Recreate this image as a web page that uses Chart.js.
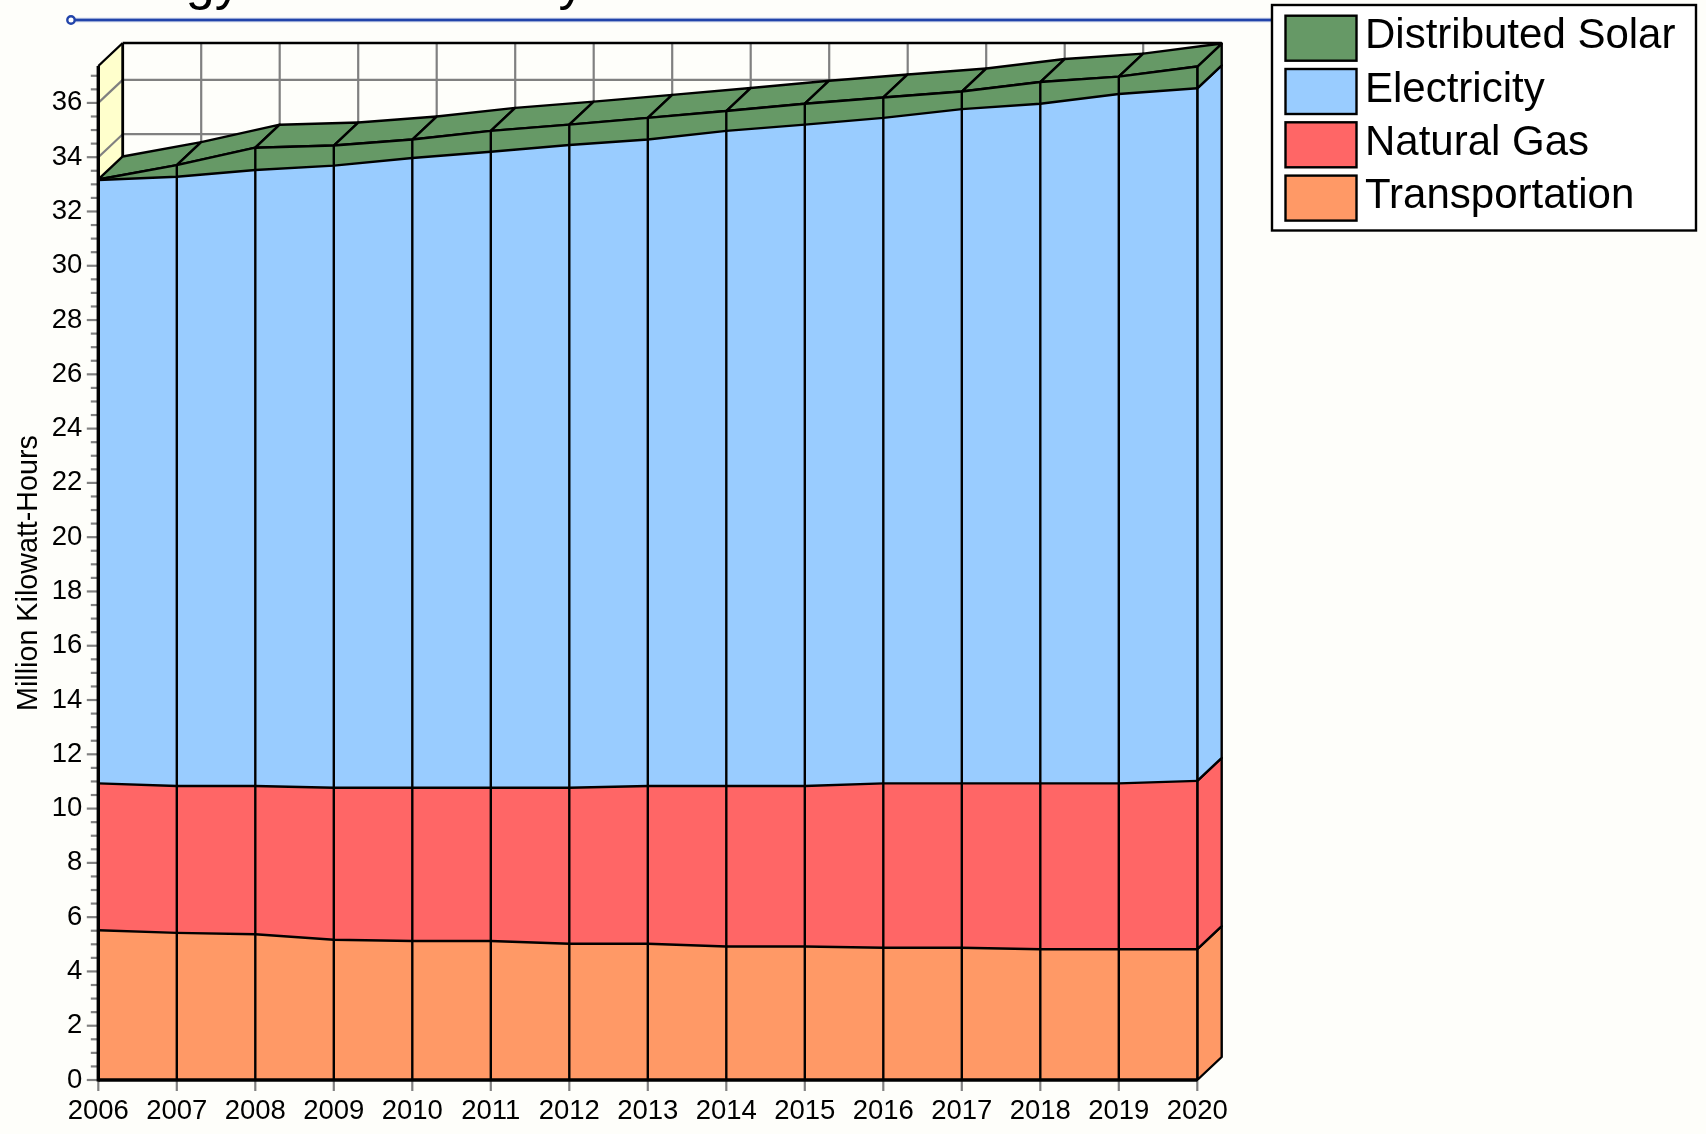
<!DOCTYPE html>
<html>
<head>
<meta charset="utf-8">
<title>Energy Use Summary</title>
<style>html,body{margin:0;padding:0;background:#FEFEFA;overflow:hidden}canvas{display:block}</style>
<script src="https://cdn.jsdelivr.net/npm/chart.js@4/dist/chart.umd.min.js"></script>
</head>
<body>
<canvas id="c" width="1706" height="1134"></canvas>
<script>
const years = ['2006','2007','2008','2009','2010','2011','2012','2013','2014','2015','2016','2017','2018','2019','2020'];
const transportation = [5.52,5.42,5.37,5.17,5.12,5.12,5.02,5.02,4.92,4.92,4.87,4.87,4.82,4.82,4.82];
const naturalGas = [5.41,5.41,5.46,5.6,5.65,5.65,5.75,5.81,5.91,5.91,6.06,6.06,6.11,6.11,6.2];
const electricity = [22.23,22.45,22.7,22.92,23.2,23.43,23.68,23.82,24.14,24.37,24.52,24.84,25.04,25.4,25.52];
const distributedSolar = [0.02,0.43,0.82,0.74,0.68,0.77,0.75,0.8,0.73,0.77,0.75,0.65,0.8,0.64,0.8];
const yTickValues = [];
for (let v = 0; v <= 37; v += 0.5) yTickValues.push(v);
const chartTitle = 'Energy Use Summary';
const yAxisTitle = 'Million Kilowatt-Hours';

const FONT = '"Liberation Sans", Arial, sans-serif';
const BG = '#FEFEFA', DEPTH_X = 24.4, DEPTH_Y = 23;
const COLORS = {t:'#FF9966', g:'#FF6666', e:'#99CCFF', s:'#669966'};

function seg(ctx, x1, y1, x2, y2, color, w) {
  ctx.strokeStyle = color; ctx.lineWidth = w;
  ctx.beginPath(); ctx.moveTo(x1, y1); ctx.lineTo(x2, y2); ctx.stroke();
}
function quad(ctx, pts, fill) {
  ctx.beginPath(); pts.forEach((p, i) => i ? ctx.lineTo(p[0], p[1]) : ctx.moveTo(p[0], p[1])); ctx.closePath();
  ctx.fillStyle = fill; ctx.fill();
  ctx.strokeStyle = '#000'; ctx.lineWidth = 2.4; ctx.lineJoin = 'round'; ctx.stroke();
}

const box3d = {
  id: 'box3d',
  beforeDraw(chart) {
    const ctx = chart.ctx;
    ctx.save();
    ctx.fillStyle = BG; ctx.fillRect(0, 0, chart.width, chart.height);
    ctx.fillStyle = '#000'; ctx.font = '52px ' + FONT; ctx.textBaseline = 'alphabetic'; ctx.textAlign = 'left';
    ctx.fillText(chartTitle, 76, -1);
    seg(ctx, 71, 20, 1272, 20, 'rgba(43,75,174,0.3)', 4.5);
    seg(ctx, 71, 20, 1272, 20, '#2244AA', 2.4);
    ctx.beginPath(); ctx.arc(71, 20, 3.7, 0, Math.PI * 2);
    ctx.fillStyle = '#FFFFFF'; ctx.fill(); ctx.strokeStyle = '#2244AA'; ctx.lineWidth = 2.4; ctx.stroke();
    ctx.restore();
  },
  beforeDatasetsDraw(chart) {
    const ctx = chart.ctx, xs = chart.scales.x, ys = chart.scales.y;
    const L = xs.left, R = xs.right, B = ys.bottom, T = ys.top;
    ctx.save();
    ctx.beginPath(); ctx.moveTo(L, B); ctx.lineTo(L, T); ctx.lineTo(L + DEPTH_X, T - DEPTH_Y); ctx.lineTo(L + DEPTH_X, B - DEPTH_Y); ctx.closePath();
    ctx.fillStyle = '#FFFFCC'; ctx.fill();
    years.forEach((y, i) => {
      const x = xs.getPixelForTick(i) + DEPTH_X;
      if (i > 0 && i < years.length - 1) seg(ctx, x, T - DEPTH_Y, x, B - DEPTH_Y, '#808080', 2.2);
    });
    yTickValues.filter(v => v % 2 === 0).forEach(v => {
      const y = ys.getPixelForValue(v);
      seg(ctx, L, y, L + DEPTH_X, y - DEPTH_Y, '#808080', 2.2);
      seg(ctx, L + DEPTH_X, y - DEPTH_Y, R + DEPTH_X, y - DEPTH_Y, '#808080', 2.2);
    });
    seg(ctx, L + DEPTH_X, T - DEPTH_Y, R + DEPTH_X, T - DEPTH_Y, '#000', 2.4);
    seg(ctx, L + DEPTH_X, T - DEPTH_Y, L + DEPTH_X, B - DEPTH_Y, '#000', 2.8);
    seg(ctx, L, T, L + DEPTH_X, T - DEPTH_Y, '#000', 2.4);
    const n = years.length - 1;
    let prevY = B;
    chart.data.datasets.forEach((ds, d) => {
      const pt = chart.getDatasetMeta(d).data[n];
      quad(ctx, [[pt.x, prevY], [pt.x, pt.y], [pt.x + DEPTH_X, pt.y - DEPTH_Y], [pt.x + DEPTH_X, prevY - DEPTH_Y]], ds.backgroundColor);
      prevY = pt.y;
    });
    const top = chart.getDatasetMeta(chart.data.datasets.length - 1).data;
    for (let i = 0; i < n; i++) {
      const a = top[i], b = top[i + 1];
      quad(ctx, [[a.x, a.y], [b.x, b.y], [b.x + DEPTH_X, b.y - DEPTH_Y], [a.x + DEPTH_X, a.y - DEPTH_Y]], COLORS.s);
    }
    ctx.restore();
  },
  afterDatasetsDraw(chart) {
    const ctx = chart.ctx, xs = chart.scales.x, ys = chart.scales.y;
    const L = xs.left, R = xs.right, B = ys.bottom, T = ys.top;
    const top = chart.getDatasetMeta(chart.data.datasets.length - 1).data;
    ctx.save();
    top.forEach(p => seg(ctx, p.x, B, p.x, p.y, '#000', 2.4));
    yTickValues.forEach(v => {
      const y = ys.getPixelForValue(v), major = v % 2 === 0;
      seg(ctx, L - (major ? 11.5 : 7.5), y, L - 1, y, '#808080', 2.2);
    });
    years.forEach((y, i) => {
      const x = xs.getPixelForTick(i);
      seg(ctx, x, B + 1, x, B + 11, '#808080', 2.2);
    });
    seg(ctx, L, T, L, B + 1.5, '#000', 3.4);
    seg(ctx, L, B, R, B, '#000', 3.4);
    ctx.restore();
  },
  afterDraw(chart) {
    const ctx = chart.ctx;
    ctx.save();
    ctx.fillStyle = '#FFFFFF'; ctx.fillRect(1272, 5, 424, 225.5);
    ctx.strokeStyle = '#000'; ctx.lineWidth = 2.4; ctx.strokeRect(1272, 5, 424, 225.5);
    const rows = chart.data.datasets.slice().reverse();
    rows.forEach((ds, i) => {
      const top = 15.7 + i * 53.3;
      ctx.fillStyle = ds.backgroundColor; ctx.fillRect(1285.5, top, 71, 45);
      ctx.strokeStyle = '#000'; ctx.lineWidth = 2.4; ctx.strokeRect(1285.5, top, 71, 45);
      ctx.fillStyle = '#000'; ctx.font = '42px ' + FONT; ctx.textAlign = 'left'; ctx.textBaseline = 'alphabetic';
      ctx.fillText(ds.label, 1365, 48.4 + i * 53.3);
    });
    ctx.restore();
  }
};

const line = (label, data, color, fill) => ({
  label, data, fill, backgroundColor: color, borderColor: '#000', borderWidth: 2.4,
  pointRadius: 0, tension: 0, clip: false
});

new Chart(document.getElementById('c'), {
  type: 'line',
  data: {
    labels: years,
    datasets: [
      line('Transportation', transportation, COLORS.t, 'origin'),
      line('Natural Gas', naturalGas, COLORS.g, '-1'),
      line('Electricity', electricity, COLORS.e, '-1'),
      line('Distributed Solar', distributedSolar, COLORS.s, '-1')
    ]
  },
  plugins: [box3d],
  options: {
    responsive: false,
    animation: false,
    layout: {padding: {left: 0, top: 66, right: 508.7, bottom: 0}},
    plugins: {legend: {display: false}, title: {display: false}, tooltip: {enabled: false}},
    scales: {
      x: {
        type: 'category',
        offset: false,
        grid: {display: false, drawTicks: false},
        border: {display: false},
        afterFit(s) { s.height = 54; },
        ticks: {color: '#000', font: {family: FONT, size: 27.5}, padding: 15, maxRotation: 0, minRotation: 0, autoSkip: false}
      },
      y: {
        stacked: true,
        min: 0,
        max: 37.36,
        grid: {display: false, drawTicks: false},
        border: {display: false},
        afterFit(s) { s.width = 98.3; },
        afterBuildTicks(s) { s.ticks = yTickValues.map(value => ({value})); },
        title: {display: true, text: yAxisTitle, color: '#000', font: {family: FONT, size: 28.7}, padding: {top: 12, bottom: 0}},
        ticks: {color: '#000', font: {family: FONT, size: 27.5}, padding: 16, autoSkip: false,
          callback: v => (v % 2 === 0 ? String(v) : '')}
      }
    }
  }
});
</script>
</body>
</html>
